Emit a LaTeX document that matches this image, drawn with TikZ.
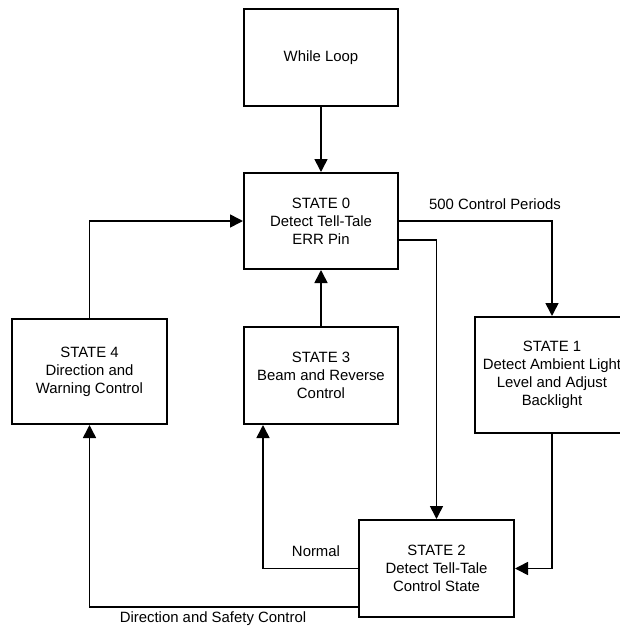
\documentclass[tikz,border=0pt]{standalone}
\usepackage{fontspec}
\setmainfont{Liberation Sans}
\usetikzlibrary{arrows.meta}
\begin{document}
\begin{tikzpicture}[x=1pt,y=-1pt,
  every node/.style={font=\fontsize{14.9}{18}\selectfont},
  box/.style={draw, line width=2pt, align=center, inner sep=0pt, minimum width=154pt},
  conn/.style={line width=1.6pt, -{Triangle[length=13pt,width=13pt]}},
  lbl/.style={inner sep=0pt}]
\useasboundingbox (0,0) rectangle (620,627);
\node[box, minimum height=97pt] (wl) at (321,57.5) {While Loop};
\node[box, minimum height=96pt] (s0) at (321,221) {STATE 0\\Detect Tell-Tale\\ERR Pin};
\node[box, minimum height=97pt] (s3) at (321,375.5) {STATE 3\\Beam and Reverse\\Control};
\node[box, minimum height=105pt, minimum width=155pt] (s4) at (89.5,371.5) {STATE 4\\Direction and\\Warning Control};
\node[box, minimum height=116pt] (s1) at (552,375) {STATE 1\\Detect Ambient Light\\Level and Adjust\\Backlight};
\node[box, minimum height=97pt, minimum width=155pt] (s2) at (436.5,568.5) {STATE 2\\Detect Tell-Tale\\Control State};
\draw[conn] (wl) -- (s0);
\draw[conn] (s0.east) -| (s1.north);
\draw[conn] ([yshift=-19pt]s0.east) -| (s2.north);
\draw[conn] (s3) -- (s0);
\draw[conn] (s4.north) |- (s0.west);
\draw[conn] (s1.south) |- (s2.east);
\draw[conn] (s2.west) -| ([xshift=-58pt]s3.south);
\draw[conn] ([yshift=-38.5pt]s2.west) -| (s4.south);
\node[lbl] (l500) at (495,204) {500 Control Periods};
\node[lbl] (lnorm) at (316,551) {Normal};
\node[lbl] (ldir) at (213,619) {Direction and Safety Control};
\end{tikzpicture}
\end{document}
